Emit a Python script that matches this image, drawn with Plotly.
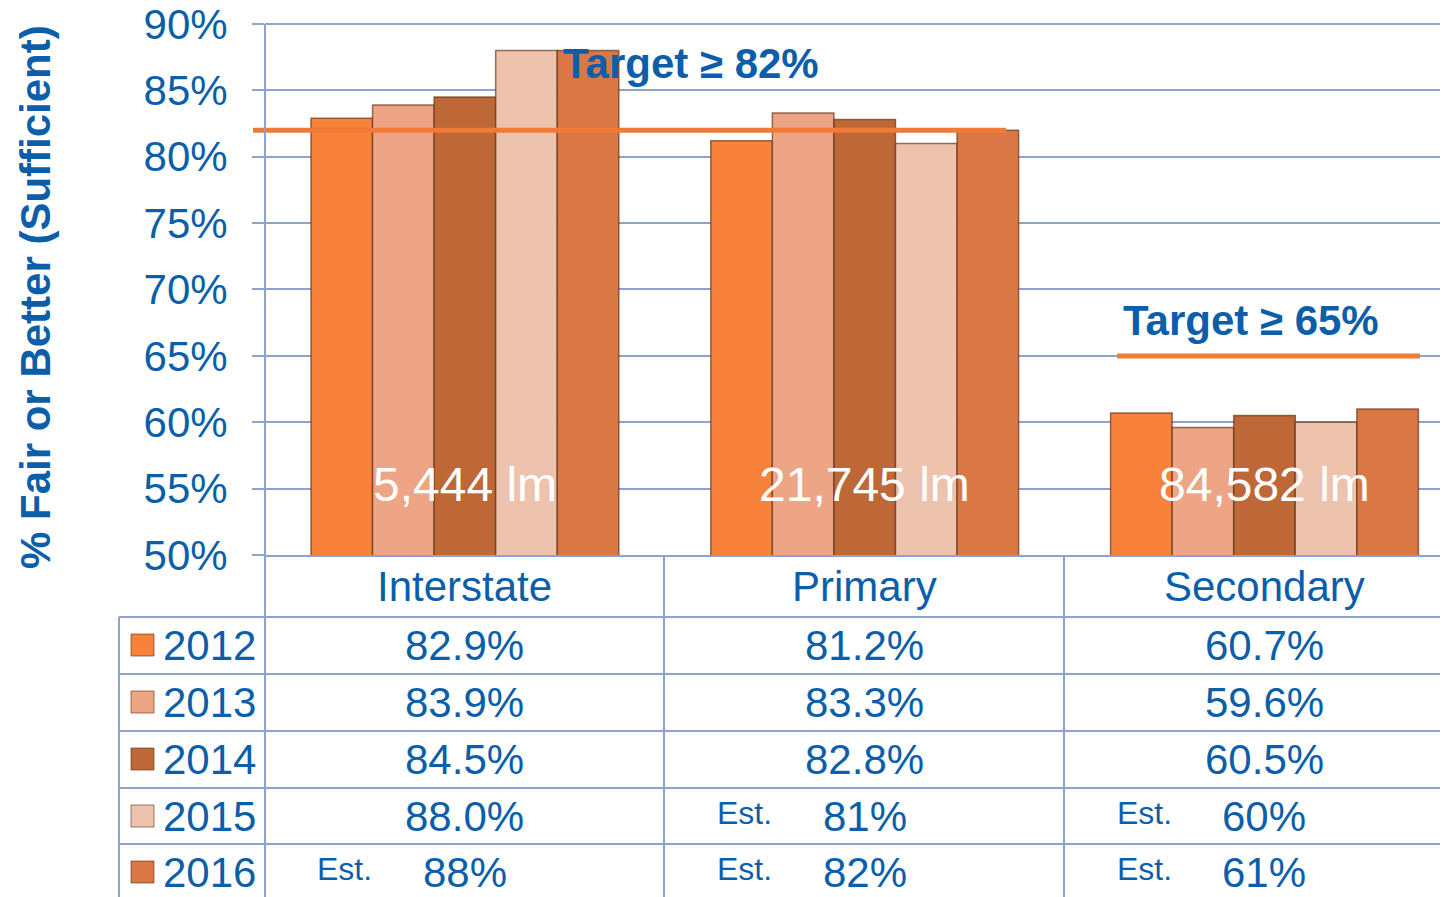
"""
포장 상태 차트 (Fair or Better)
"""
import plotly.graph_objects as go

W, H = 1448, 897
OFF = 8  # 페이지 기본 여백 보정

categories = ["Interstate", "Primary", "Secondary"]
years = ["2012", "2013", "2014", "2015", "2016"]
pct_2012 = [82.9, 81.2, 60.7]
pct_2013 = [83.9, 83.3, 59.6]
pct_2014 = [84.5, 82.8, 60.5]
pct_2015 = [88.0, 81.0, 60.0]
pct_2016 = [88.0, 82.0, 61.0]
est_2012 = [False, False, False]
est_2013 = [False, False, False]
est_2014 = [False, False, False]
est_2015 = [False, True, True]
est_2016 = [True, True, True]
lane_miles = [5444, 21745, 84582]
target_main = 82
target_secondary = 65

series = [pct_2012, pct_2013, pct_2014, pct_2015, pct_2016]
estimates = [est_2012, est_2013, est_2014, est_2015, est_2016]
colors = ["#F9823A", "#EDA585", "#BE6838", "#EEC3AE", "#D97844"]

BLUE = "#0B5FAA"
GRID = "#8FA2CF"
FONT = "Liberation Sans, Arial, sans-serif"

FW, FH = W - OFF, H - OFF
Y_MIN, Y_MAX = 50, 90.15  # 위쪽 격자선이 잘리지 않도록 약간 여유
PX_PER_PCT = (555 - 24) / 40


def px_x(p):
    return (p - OFF) / FW


def px_y(p):
    return 1 - (p - OFF) / FH


def text(x, y, s, size=42, color=BLUE, xref="paper", yref="paper", bold=False, **kw):
    # 주석 헬퍼 (앵커는 기본 중앙)
    d = dict(xref=xref, yref=yref, x=x, y=y, text=s, showarrow=False,
             xanchor="center", yanchor="middle",
             font=dict(family=FONT, size=size, color=color, weight="bold" if bold else "normal"))
    d.update(kw)
    return d


fig = go.Figure()

for yr, vals, col in zip(years, series, colors):
    fig.add_trace(go.Bar(
        x=categories,
        y=vals,
        name=yr,
        marker=dict(color=col, line=dict(color="rgba(95,45,15,0.65)", width=1.5)),
        showlegend=False,
    ))

shapes = []
annotations = []

# 목표선
shapes.append(dict(type="line", xref="paper", yref="y", x0=px_x(253), x1=px_x(1006),
                   y0=target_main, y1=target_main, line=dict(color="#F07A36", width=5), layer="above"))
shapes.append(dict(type="line", xref="paper", yref="y", x0=px_x(1117), x1=px_x(1420),
                   y0=target_secondary, y1=target_secondary, line=dict(color="#F07A36", width=5), layer="above"))
annotations.append(text(px_x(691), px_y(63), f"Target ≥ {target_main}%", bold=True))
annotations.append(text(px_x(1251), px_y(320), f"Target ≥ {target_secondary}%", bold=True))

# 차선 마일
for i, lm in enumerate(lane_miles):
    annotations.append(text(i, 55.3, f"{lm:,} lm", size=48, color="white", xref="x", yref="y"))

# y축 제목
annotations.append(text(px_x(35), px_y(297), "% Fair or Better (Sufficient)", bold=True, textangle=-90))

# 데이터 테이블
row_lines = [617, 674, 731, 788, 844]
row_centers = [645, 702, 759, 816, 872]
for y in row_lines:
    shapes.append(dict(type="line", xref="paper", yref="paper", x0=px_x(119), x1=1,
                       y0=px_y(y), y1=px_y(y), line=dict(color=GRID, width=2)))
shapes.append(dict(type="line", xref="paper", yref="paper", x0=px_x(119), x1=px_x(119),
                   y0=px_y(617), y1=0, line=dict(color=GRID, width=2)))
shapes.append(dict(type="line", xref="paper", yref="paper", x0=px_x(265), x1=px_x(265),
                   y0=px_y(24), y1=0, line=dict(color=GRID, width=2)))
for xp in [664, 1064]:
    shapes.append(dict(type="line", xref="paper", yref="paper", x0=px_x(xp), x1=px_x(xp),
                       y0=px_y(555), y1=0, line=dict(color=GRID, width=2)))

for i, cat in enumerate(categories):
    annotations.append(text(i, px_y(586), cat, xref="x"))

for r, (yr, vals, ests, col) in enumerate(zip(years, series, estimates, colors)):
    yc = row_centers[r]
    shapes.append(dict(type="rect", xref="paper", yref="paper", x0=px_x(131), x1=px_x(154),
                       y0=px_y(yc + 11), y1=px_y(yc - 11), fillcolor=col,
                       line=dict(color="rgba(95,45,15,0.6)", width=1)))
    annotations.append(text(px_x(161), px_y(yc), yr, xanchor="left"))
    for i, (v, e) in enumerate(zip(vals, ests)):
        label = f"{v:.0f}%" if e else f"{v:.1f}%"
        annotations.append(text(i, px_y(yc), label, xref="x"))
        if e:
            annotations.append(text(i - 0.3, px_y(yc - 3), "Est.", size=32, xref="x"))

fig.update_layout(
    width=FW,
    height=FH,
    margin=dict(l=0, r=0, t=0, b=0, autoexpand=False),
    barmode="group",
    bargap=0.23,
    bargroupgap=0,
    plot_bgcolor="white",
    paper_bgcolor="white",
    shapes=shapes,
    annotations=annotations,
    xaxis=dict(
        domain=[px_x(265), 1],
        range=[-0.5, 2.459],
        showticklabels=False,
        showgrid=False,
        showline=True,
        linecolor=GRID,
        linewidth=2,
        ticks="",
    ),
    yaxis=dict(
        domain=[px_y(555), px_y(24 - (Y_MAX - 90) * PX_PER_PCT)],
        range=[Y_MIN, Y_MAX],
        tick0=50,
        dtick=5,
        ticksuffix="%",
        tickfont=dict(family=FONT, size=42, color=BLUE),
        ticklabeloverflow="allow",
        gridcolor=GRID,
        gridwidth=2,
        ticks="outside",
        ticklen=12,
        tickwidth=2,
        tickcolor=GRID,
        ticklabelstandoff=16,
        showline=False,
        zeroline=False,
        automargin=False,
    ),
)

fig.write_html("out.html")
